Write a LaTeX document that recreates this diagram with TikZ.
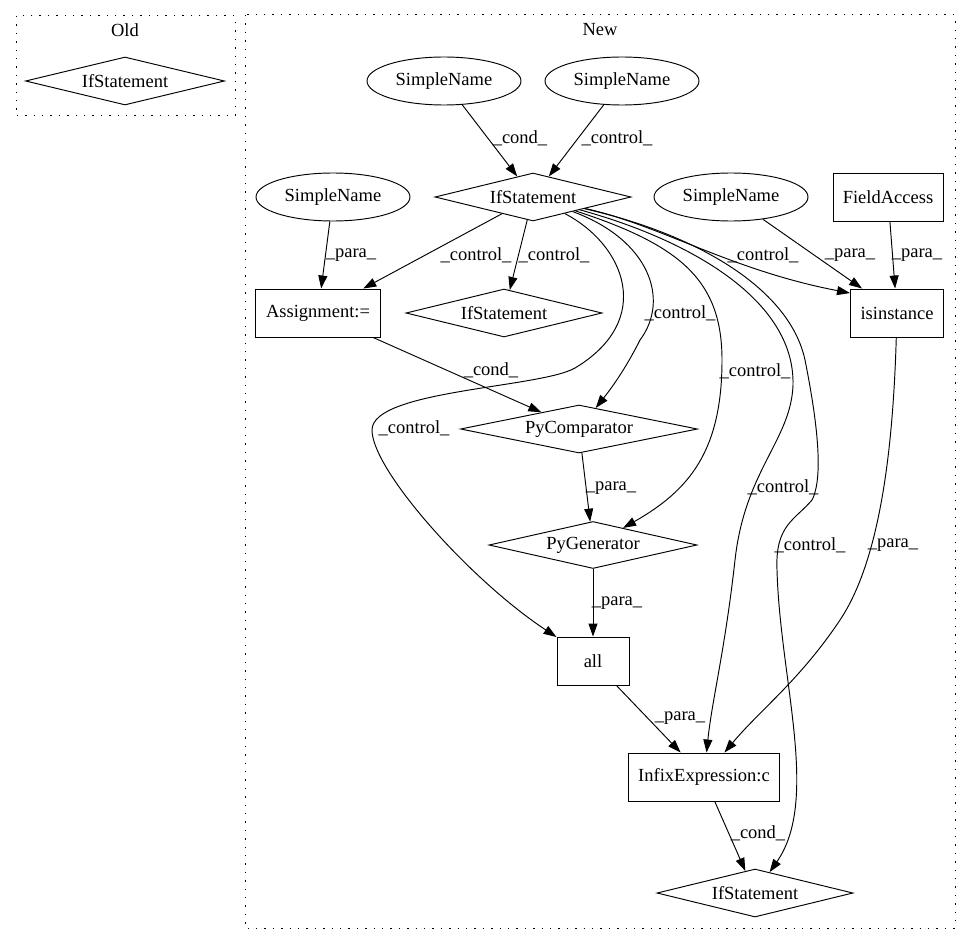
\documentclass[tikz,border=0pt]{standalone}
\usepackage{fontspec}
\setmainfont{Liberation Serif}
\usepackage{tikz}
\usetikzlibrary{shapes.geometric,arrows.meta}

\begin{document}
\begin{tikzpicture}[x=1pt,y=-1pt,
        every node/.style={font=\fontsize{18.5}{20}\selectfont},
        cluster/.style={
          line width=1pt,dash pattern=on 1.4pt off 7pt
        },
        dia/.style={draw,line width=0.95pt,diamond,aspect=5,inner sep=0pt,
          minimum width=196pt,minimum height=48pt},
        oval/.style={draw,line width=0.95pt,ellipse,inner sep=0pt,
          minimum width=154pt,minimum height=48pt},
        box/.style={draw,line width=0.95pt,rectangle,inner sep=0pt,minimum height=48pt},
        arr/.style={line width=0.95pt,-{Triangle[length=13pt,width=9pt]}},
        lab/.style={inner sep=0pt}
      ]
      \useasboundingbox (0,0) rectangle (971,944);
      % clusters
      \draw [cluster] (16,16) rectangle (235,116);
      \draw [cluster] (245,15) rectangle (955,928);
      \node (old) at (125,30) {Old};
      \node (new) at (600,30) {New};
      \node [dia,minimum width=199pt] (oldif) at (125,81) {IfStatement};
      % nodes
      \node [oval] (sn1) at (444,81) {SimpleName};
      \node [oval] (sn2) at (622,81) {SimpleName};
      \node [dia] (iftop) at (533,197) {IfStatement};
      \node [oval] (sn3) at (333,197) {SimpleName};
      \node [oval] (sn4) at (731,197) {SimpleName};
      \node [box,minimum width=110pt] (fa) at (888,197) {FieldAccess};
      \node [box,minimum width=125pt] (asg) at (318,313) {Assignment:=};
      \node [dia] (ifmid) at (504,313) {IfStatement};
      \node [box,minimum width=93pt] (isin) at (897,313) {isinstance};
      \node [dia,minimum width=237pt] (pycomp) at (579,429) {PyComparator};
      \node [dia,minimum width=208pt,minimum height=47pt] (pygen) at (593,545) {PyGenerator};
      \node [box,minimum width=72pt] (all) at (593,661) {all};
      \node [box,minimum width=151pt] (infix) at (704,777) {InfixExpression:c};
      \node [dia] (ifbot) at (755,893) {IfStatement};
      % edges
      \draw [arr] (sn1) -- (iftop) node [lab] at (520,138) {\_cond\_};
      \draw [arr] (sn2) -- (iftop) node [lab] at (617,138) {\_control\_};
      \draw [arr] (sn3) -- (asg) node [lab] at (351,255) {\_para\_};
      \draw [arr] (iftop) -- (asg) node [lab] at (476,255) {\_control\_};
      \draw [arr] (iftop) -- (ifmid) node [lab] at (554,255) {\_control\_};
      \draw [arr] (iftop) .. controls (660,225) and (730,270) .. (isin.157)
        node [lab] at (763,255) {\_control\_};
      \draw [arr] (sn4) -- (isin) node [lab] at (850,255) {\_para\_};
      \draw [arr] (fa) -- (isin) node [lab] at (917,255) {\_para\_};
      \draw [arr] (iftop) .. controls (650,240) and (670,300) .. (640,340)
        .. controls (625,370) and (610,390) .. (pycomp)
        node [lab] at (680,313) {\_control\_};
      \draw [arr] (asg) -- (pycomp) node [lab] at (491,370) {\_cond\_};
      \draw [arr] (iftop) .. controls (680,245) and (722,280) .. (722,360)
        .. controls (722,450) and (690,490) .. (pygen)
        node [lab] at (755,371) {\_control\_};
      \draw [arr] (iftop) .. controls (625,245) and (655,320) .. (575,368)
        .. controls (540,388) and (372,390) .. (372,430)
        .. controls (372,470) and (470,580) .. (all)
        node [lab] at (414,428) {\_control\_};
      \draw [arr] (pycomp) -- (pygen) node [lab] at (611,488) {\_para\_};
      \draw [arr] (iftop) .. controls (690,240) and (795,300) .. (793,385)
        .. controls (791,440) and (745,470) .. (735,560)
        .. controls (725,650) and (712,700) .. (infix)
        node [lab] at (783,487) {\_control\_};
      \draw [arr] (iftop) .. controls (700,235) and (790,290) .. (805,360)
        .. controls (815,410) and (825,475) .. (812,500)
        .. controls (795,520) and (775,525) .. (777,570)
        .. controls (780,680) and (820,800) .. (ifbot)
        node [lab] at (810,545) {\_control\_};
      \draw [arr] (isin) .. controls (893,450) and (880,560) .. (840,620)
        .. controls (800,680) and (760,710) .. (infix)
        node [lab] at (893,545) {\_para\_};
      \draw [arr] (pygen) -- (all) node [lab] at (617,603) {\_para\_};
      \draw [arr] (all) -- (infix) node [lab] at (680,718) {\_para\_};
      \draw [arr] (infix) -- (ifbot) node [lab] at (758,833) {\_cond\_};
    \end{tikzpicture}
\end{document}
